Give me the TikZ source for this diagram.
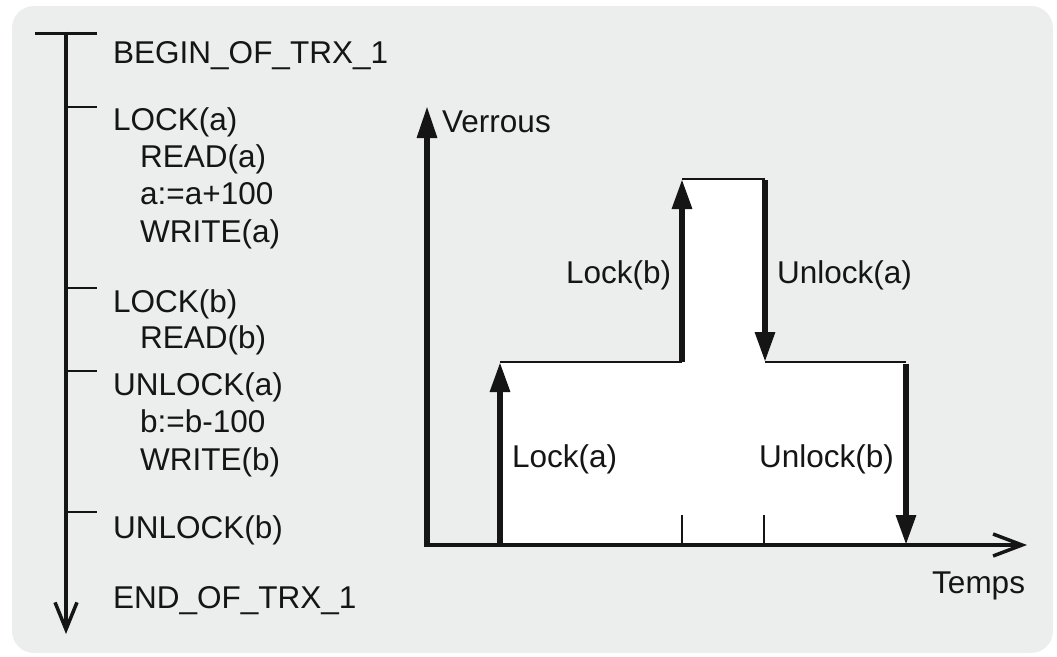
\documentclass[tikz,border=0pt]{standalone}
\usepackage{fontspec}
\setmainfont{Liberation Sans}
\usetikzlibrary{arrows.meta}
\definecolor{bg}{HTML}{ECEDED}
\definecolor{ink}{HTML}{151515}
\begin{document}
\begin{tikzpicture}[x=1pt,y=-1pt,
  lbl/.style={anchor=base west, inner sep=0pt, text=ink, font=\fontsize{31.5}{37}\selectfont},
  thinline/.style={draw=ink, line width=2pt},
  tickline/.style={draw=ink, line width=1.5pt},
  stepline/.style={draw=ink, line width=6pt, -{Triangle[length=30pt,width=19pt]}},
  axisline/.style={draw=ink, line width=3.5pt, -{Straight Barb[length=29pt,width=22pt,line width=3.5pt]}},
  timeline/.style={draw=ink, line width=4pt, -{Straight Barb[length=27pt,width=22pt,line width=3.5pt]}}]
\useasboundingbox (0,0) rectangle (1057,656);
\fill[bg, rounded corners=22pt] (12,6) rectangle (1053,653);

% left timeline
\coordinate (tltop) at (66,33);
\coordinate (tlend) at (66,634);
\coordinate (barL) at (35,33);
\coordinate (barR) at (97,33);
\draw[draw=ink, line width=3pt] (barL) -- (barR);
\draw[timeline] (66,31.5) -- (tlend);
\foreach \y/\n in {107/ta,288/tb,371/tc,512/td}{
  \coordinate (\n0) at (66,\y);
  \coordinate (\n1) at (97,\y);
  \draw[thinline] (\n0) -- (\n1);
}
\node[lbl] (t1) at (113,63) {BEGIN\_OF\_TRX\_1};
\node[lbl] (t2) at (113,130) {LOCK(a)};
\node[lbl] (t3) at (140,167) {READ(a)};
\node[lbl] (t4) at (140,204) {a:=a+100};
\node[lbl] (t5) at (140,242) {WRITE(a)};
\node[lbl] (t6) at (113,312) {LOCK(b)};
\node[lbl] (t7) at (140,348) {READ(b)};
\node[lbl] (t8) at (113,395) {UNLOCK(a)};
\node[lbl] (t9) at (140,432) {b:=b-100};
\node[lbl] (t10) at (140,470) {WRITE(b)};
\node[lbl] (t11) at (113,538) {UNLOCK(b)};
\node[lbl] (t12) at (113,608) {END\_OF\_TRX\_1};

% chart
\coordinate (O) at (427,545);
\coordinate (ytip) at (427,106);
\coordinate (xstart) at (424,545);
\coordinate (xtip) at (1027,545);
\coordinate (A0) at (500,545);
\coordinate (A1) at (500,362);
\coordinate (B0) at (682,362);
\coordinate (B1) at (682,179);
\coordinate (C0) at (765,179);
\coordinate (C1) at (765,362);
\coordinate (D0) at (906,362);
\coordinate (D1) at (906,545);
\fill[white] (A0) -- (A1) -- (B0) -- (B1) -- (C0) -- (C1) -- (D0) -- (D1) -- cycle;
\draw[thinline] (A1) -- (B0);
\draw[thinline] (B1) -- (C0);
\draw[thinline] (C1) -- (D0);
\coordinate (k1a) at (682,515);
\coordinate (k1b) at (682,545);
\coordinate (k2a) at (764,515);
\coordinate (k2b) at (764,545);
\draw[tickline] (k1a) -- (k1b);
\draw[tickline] (k2a) -- (k2b);
\draw[axisline] (xstart) -- (xtip);
\draw[draw=ink, line width=6pt, -{Triangle[length=32pt,width=19pt]}] (427,547) -- (ytip);
\draw[stepline] (A0) -- (A1);
\draw[stepline] (B0) -- (B1);
\draw[stepline] ([yshift=-1pt]C0) -- (C1);
\draw[stepline] ([yshift=-2pt]D0) -- (D1);

\node[lbl] (verrous) at (442,132) {Verrous};
\node[lbl] (lockb) at (566,283) {Lock(b)};
\node[lbl] (unlocka) at (777,283) {Unlock(a)};
\node[lbl] (locka) at (512,467) {Lock(a)};
\node[lbl] (unlockb) at (759,467) {Unlock(b)};
\node[lbl] (temps) at (932,593) {Temps};
\end{tikzpicture}
\end{document}
